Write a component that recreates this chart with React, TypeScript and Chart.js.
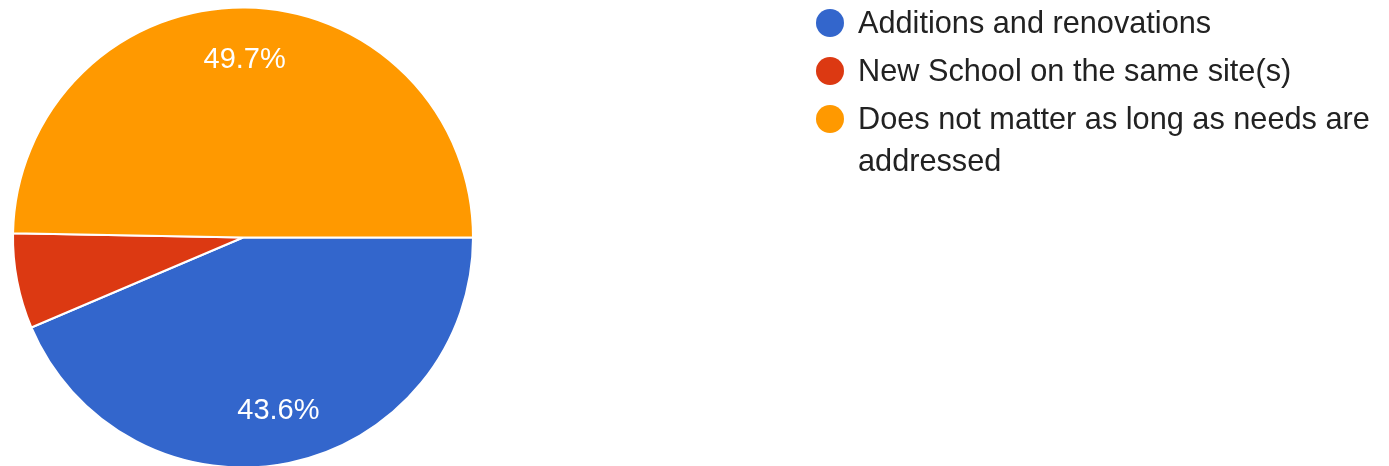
import React, { useEffect, useRef } from "react";
import { Chart, registerables } from "chart.js";

Chart.register(...registerables);

const categories = [
  "Additions and renovations",
  "New School on the same site(s)",
  "Does not matter as long as needs are addressed",
];
const shares = [43.6, 6.7, 49.7];
const sliceColors = ["#3366CC", "#DC3912", "#FF9900"];
const labelMinShare = 10;

const FONT = '"Liberation Sans", Arial, sans-serif';

const sliceLabels = {
  id: "sliceLabels",
  afterDatasetsDraw(chart: any) {
    const ctx = chart.ctx;
    const meta = chart.getDatasetMeta(0);
    const data = chart.data.datasets[0].data as number[];
    ctx.save();
    ctx.fillStyle = "#ffffff";
    ctx.font = `29px ${FONT}`;
    ctx.textAlign = "center";
    ctx.textBaseline = "middle";
    meta.data.forEach((arc: any, i: number) => {
      if (data[i] < labelMinShare) return;
      const { x, y, startAngle, endAngle, outerRadius } = arc.getProps(
        ["x", "y", "startAngle", "endAngle", "outerRadius"],
        true
      );
      const mid = (startAngle + endAngle) / 2;
      const d = outerRadius * 0.77;
      ctx.fillText(data[i].toFixed(1) + "%", x + Math.cos(mid) * d, y + Math.sin(mid) * d);
    });
    ctx.restore();
  },
};

export default function App() {
  const ref = useRef<HTMLCanvasElement | null>(null);

  useEffect(() => {
    if (!ref.current) return;
    const chart = new Chart(ref.current, {
      type: "pie",
      data: {
        labels: categories,
        datasets: [
          {
            data: shares,
            backgroundColor: sliceColors,
            borderColor: "#ffffff",
            borderWidth: 2,
          },
        ],
      },
      options: {
        responsive: false,
        animation: false,
        rotation: 90,
        layout: { padding: { left: 12, top: 6.5, right: 915, bottom: 1.5 } },
        plugins: {
          legend: { display: false },
          tooltip: { enabled: false },
        },
      },
      plugins: [sliceLabels],
    });
    return () => chart.destroy();
  }, []);

  return (
    <div style={{ position: "absolute", left: 0, top: 0, width: 1389, height: 466, background: "#fff", overflow: "hidden" }}>
      <canvas ref={ref} width={1389} height={470} style={{ position: "absolute", left: 0, top: 0 }} />
      <div
        style={{
          position: "absolute",
          left: 816,
          top: 2,
          width: 565,
          fontFamily: FONT,
          fontSize: 30.7,
          lineHeight: "42px",
          color: "#222222",
        }}
      >
        {categories.map((c, i) => (
          <div key={c} style={{ display: "flex", alignItems: "flex-start", marginBottom: 6 }}>
            <div
              style={{
                width: 28,
                height: 28,
                borderRadius: "50%",
                background: sliceColors[i],
                marginTop: 7,
                marginRight: 14,
                flex: "0 0 auto",
              }}
            />
            <div style={{ width: 525 }}>{c}</div>
          </div>
        ))}
      </div>
    </div>
  );
}
